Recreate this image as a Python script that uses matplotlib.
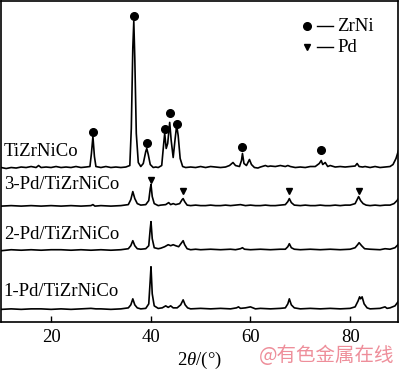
import numpy as np
import matplotlib.pyplot as plt

plt.rcParams['font.family'] = ['Liberation Serif', 'DejaVu Serif']
plt.rcParams['mathtext.fontset'] = 'custom'
plt.rcParams['mathtext.it'] = 'Liberation Serif:italic'
plt.rcParams['mathtext.rm'] = 'Liberation Serif'

# XRD patterns: 2theta (deg) and intensity above each baseline (a.u.)
tt_base = [10, 11, 12, 13, 14, 15, 16, 17, 17.5, 18, 19, 20, 21, 22, 23, 24, 25, 26, 27, 27.8,
           28.1, 28.4, 28.7, 29, 30, 31, 32, 33, 34, 35, 35.8, 36.1, 36.4, 36.6, 36.8, 37.1, 37.5,
           38, 38.5, 39.0, 39.2, 39.5, 39.9, 40.5, 41, 41.5, 42.2, 42.6, 42.8, 43.1, 43.4, 43.8,
           44.1, 44.5, 44.9, 45.2, 45.5, 45.9, 46.4, 47, 48, 49, 50, 51, 52, 53, 54, 55, 55.8, 56.5,
           57, 57.8, 58.2, 58.4, 58.7, 59.2, 59.8, 60.2, 60.8, 61.5, 62, 63, 63.5, 64, 65, 66, 67,
           67.5, 68, 69, 70, 71, 72, 73, 73.8, 74.2, 74.5, 75, 75.5, 76, 77, 78, 79, 80, 81, 81.4,
           81.8, 82.5, 83, 84, 85, 86, 87, 88, 88.6, 89.2, 89.7, 90]
i_base = [1, 0, 1, 0.5, 1.5, 1, 2, 1, 3, 1, 1.5, 1, 2, 1, 1.5, 1, 2, 1, 1.5, 2,
          15, 32, 12, 2, 1, 2, 1, 1.5, 1, 1.5, 3, 40, 120, 147, 110, 35, 6,
          2, 5, 17, 20, 14, 4, 1, 1.5, 1, 3, 25, 35, 20, 25, 46,
          28, 11, 30, 43, 33, 10, 2, 1, 1.5, 1, 2, 1, 2, 1.5, 1, 1.5, 3, 6,
          3, 2, 8, 15, 5, 3, 9, 4, 1, 0.5, 1.5, 3, 2, 2.5, 2, 3, 2,
          3, 2, 1, 1.5, 1, 2, 2, 5, 8, 4, 6, 2, 3, 1.5, 2, 1.5, 2, 2.5, 5,
          2, 1.5, 2, 1, 2, 1, 1.5, 2, 4, 10, 18, 22]

tt_pd3 = [10, 12, 14, 16, 18, 20, 22, 24, 26, 28, 28.4, 28.8, 30, 32, 34, 35.5, 36.0, 36.4, 36.8,
          37.3, 38, 39, 39.6, 39.9, 40.05, 40.3, 40.7, 41.5, 42, 43, 43.6, 44, 44.5, 45, 45.8,
          46.3, 46.5, 46.8, 47.3, 48, 49, 50, 51, 52, 53, 54, 55, 56, 57, 58, 58.5, 59, 60, 61,
          62, 63, 64, 65, 66, 67, 67.5, 67.8, 68.2, 68.8, 70, 71, 72, 73, 74, 75, 76, 77, 78, 79,
          80, 81, 81.4, 81.7, 82.1, 82.6, 83.2, 84, 85, 86, 87, 88, 88.8, 89.4, 90]
i_pd3 = [0.5, 1, 0.5, 1, 0.5, 1, 0.5, 1, 0.5, 1, 2, 0.5, 1, 0.5, 1, 2, 7, 15, 8,
         3, 1.5, 2, 6, 18, 22, 10, 3, 1, 1.5, 2, 4, 2, 3, 2, 3,
         7, 8, 5, 1.5, 1, 1.5, 1, 1, 1.5, 1, 1, 1.5, 1, 1.5, 2, 1.5, 1, 1.5, 1,
         1, 1.5, 1, 1, 1.5, 2, 5, 8, 4, 1.5, 1, 1.5, 1, 1, 1.5, 1, 1, 1.5, 1, 1.5,
         1.5, 3, 7, 10, 6, 3, 1.5, 1, 1.5, 1, 1.5, 1.5, 3, 6, 10]

tt_pd2 = [10, 12, 14, 16, 18, 20, 22, 24, 26, 28, 30, 32, 34, 35.5, 36.0, 36.4, 36.8, 37.3, 38,
          39, 39.6, 39.9, 40.05, 40.3, 40.7, 41.5, 42, 42.8, 43.5, 44, 44.5, 45, 45.6, 46.2, 46.5,
          46.8, 47.3, 48, 49, 50, 52, 54, 56, 57, 58, 58.4, 58.8, 60, 62, 64, 66, 67, 67.5, 67.8,
          68.2, 68.8, 70, 72, 74, 76, 78, 80, 81, 81.5, 81.8, 82.3, 82.9, 84, 86, 87, 88, 89,
          89.6, 90]
i_pd2 = [0, 1, 0.5, 1, 0.5, 1, 1, 0.5, 1, 0.5, 1, 0.5, 1, 2, 5, 10, 5, 2, 1.5,
         2, 5, 22, 29, 12, 3, 2, 2.5, 4, 6, 5, 6, 5, 4, 8, 10,
         6, 2, 1, 1.5, 1, 1.5, 1, 1.5, 1, 2, 3, 1.5, 1, 1.5, 1, 1.5, 1.5, 4, 7,
         3, 1.5, 1, 1.5, 1, 1.5, 1, 1.5, 3, 6, 8, 5, 2, 1.5, 1, 2, 1.5, 3,
         6, 9]

tt_pd1 = [10, 12, 14, 16, 18, 20, 22, 24, 26, 28, 29, 30, 32, 34, 35.5, 36.0, 36.4, 36.8, 37.3,
          38, 39, 39.6, 39.9, 40.05, 40.3, 40.7, 41.5, 42.3, 43, 43.5, 44, 44.5, 45.3, 46.0, 46.5,
          46.9, 47.4, 48, 50, 52, 54, 56, 57.2, 57.6, 58, 59, 60, 60.5, 61, 62, 64, 66, 67, 67.5,
          67.8, 68.2, 68.8, 70, 72, 74, 76, 78, 80, 81, 81.6, 81.9, 82.1, 82.4, 82.8, 83.4, 84,
          86, 87, 87.4, 88, 89, 89.6, 90]
i_pd1 = [0.5, 1, 0.5, 1, 1, 0.5, 1, 0.5, 1, 1.5, 1, 1, 0.5, 1, 2, 5, 11, 5, 2,
         1, 1.5, 6, 30, 43, 16, 4, 1.5, 2, 4, 2.5, 4, 2, 2, 5, 10,
         5, 2, 1, 1.5, 1, 1.5, 1, 2, 3, 1.5, 2, 3, 2, 1, 1.5, 1, 1.5, 2, 6,
         11, 5, 2, 1, 1.5, 1, 1.5, 1, 1.5, 3, 9, 13, 11, 13, 6, 2, 1,
         1.5, 3, 1.5, 2, 4, 8, 11]

names = ['TiZrNiCo', '3-Pd/TiZrNiCo', '2-Pd/TiZrNiCo', '1-Pd/TiZrNiCo']
offsets = [153, 115, 71, 12]

# phase markers (position, height above the curve's baseline)
zrni_tt = [28.4, 36.6, 39.2, 42.8, 43.8, 45.2, 58.4, 74.2]
zrni_h = [36, 152, 25, 39, 55, 44, 21, 18]
pd_tt = [40.0, 46.5, 67.8, 81.7]
pd_h = [27, 16, 16, 16]

fig = plt.figure(figsize=(4, 3.7), dpi=100)
ax = fig.add_axes([0.003, 0.13, 0.992, 0.867])

curves = [(tt_base, i_base), (tt_pd3, i_pd3), (tt_pd2, i_pd2), (tt_pd1, i_pd1)]
for (tt, ii), off in zip(curves, offsets):
    ax.plot(tt, np.array(ii) + off, color='black', lw=1.2)

ax.plot(zrni_tt, np.array(zrni_h) + offsets[0], 'o', color='black', ms=5.5, ls='none')
ax.plot(pd_tt, np.array(pd_h) + offsets[1], 'v', color='black', ms=5, ls='none')

label_y = [170, 137, 87, 30]
for name, y in zip(names, label_y):
    ax.text(10.5, y, name, fontsize=13.5, va='center', ha='left')

# legend drawn by hand like the original
ax.plot([71.4], [295], 'o', color='black', ms=5.5)
ax.plot([73.4, 76.6], [295, 295], color='black', lw=1.0)
ax.text(77.4, 295, 'ZrNi', fontsize=13.5, va='center')
ax.plot([71.4], [274], 'v', color='black', ms=5)
ax.plot([73.4, 76.6], [274, 274], color='black', lw=1.0)
ax.text(77.4, 274, 'Pd', fontsize=13.5, va='center')

ax.set_xlim(10, 89.6)
ax.set_ylim(0, 320)
ax.set_xticks([20, 40, 60, 80])
ax.set_yticks([])
ax.tick_params(axis='x', direction='in', length=4, width=1, labelsize=13.5, pad=5)
for sp in ax.spines.values():
    sp.set_linewidth(1.2)
ax.set_xlabel(r'$2\mathit{\theta}$/(°)', fontsize=13.5, labelpad=3)

fig.text(0.985, 0.04, '@有色金属在线', color='#ee8e9a', fontsize=14,
         ha='right', va='center', family=['Noto Sans CJK SC', 'DejaVu Sans'])

fig.savefig('out.png', dpi=100)
